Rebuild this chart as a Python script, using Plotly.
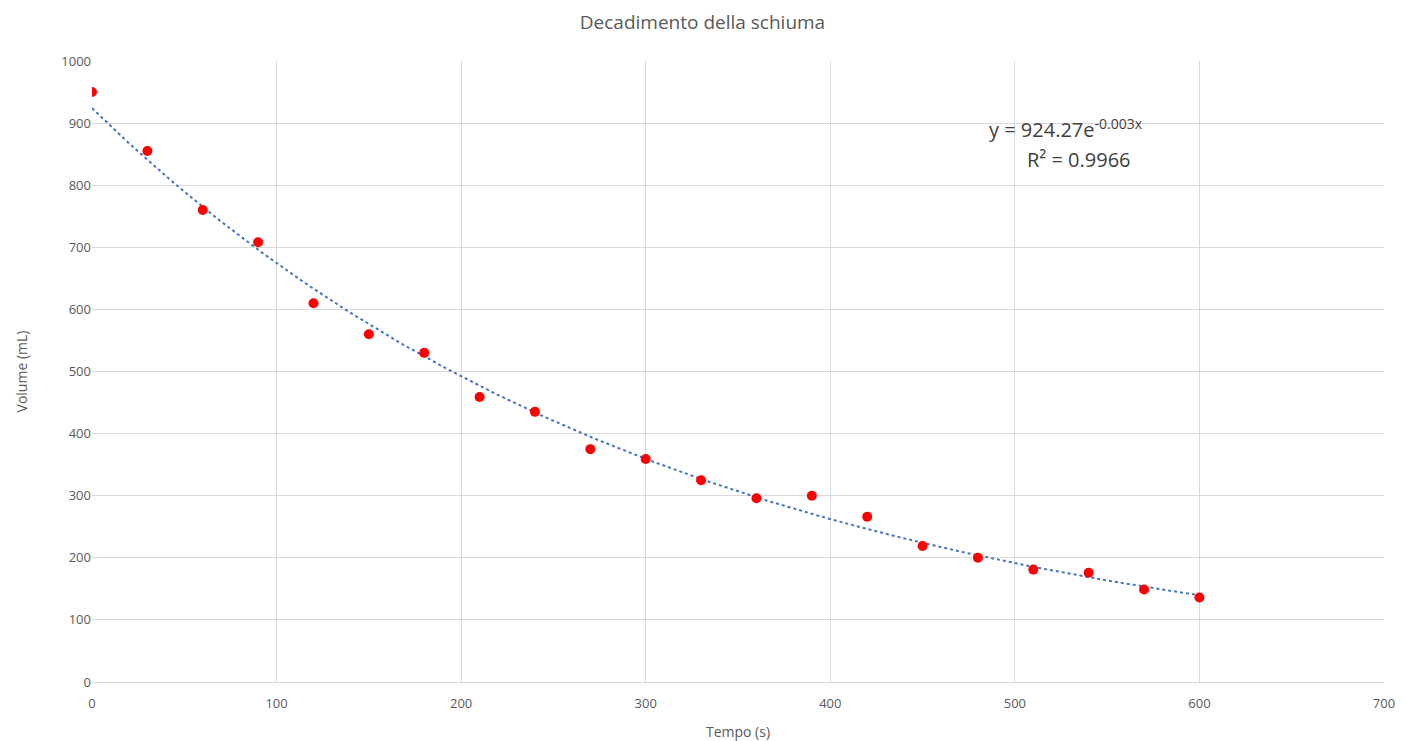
import numpy as np
import plotly.graph_objects as go

tempo = [0, 30, 60, 90, 120, 150, 180, 210, 240, 270, 300, 330, 360, 390, 420, 450, 480, 510, 540, 570, 600]
volume = [950, 855, 760, 708, 610, 560, 530, 459, 435, 375, 359, 325, 296, 300, 266, 219, 200, 181, 176, 149, 136]

# Exponential trendline (least squares on log values, as Excel does)
t = np.array(tempo, dtype=float)
v = np.array(volume, dtype=float)
b, lna = np.polyfit(t, np.log(v), 1)
a = np.exp(lna)
xt = np.linspace(0, 600, 200)
yt = a * np.exp(b * xt)

font_family = "Open Sans, Liberation Sans, sans-serif"

fig = go.Figure()
fig.add_trace(go.Scatter(
    x=xt, y=yt, mode="lines",
    line=dict(color="#4472C4", width=2, dash="dot"),
    hoverinfo="skip", showlegend=False,
))
fig.add_trace(go.Scatter(
    x=tempo, y=volume, mode="markers",
    marker=dict(color="#FF0000", size=10),
    showlegend=False,
))

fig.add_annotation(
    x=0.815, y=0.892, xref="paper", yref="paper", xanchor="right", yanchor="middle",
    text="y = 924.27e<sup>-0.003x</sup>",
    showarrow=False,
    font=dict(family=font_family, size=20, color="#404040"),
)
fig.add_annotation(
    x=0.764, y=0.8406, xref="paper", yref="paper", xanchor="center", yanchor="middle",
    text="R² = 0.9966",
    showarrow=False,
    font=dict(family=font_family, size=20, color="#404040"),
)

fig.update_layout(
    width=1405, height=741,
    paper_bgcolor="white", plot_bgcolor="white",
    margin=dict(l=92, r=21, t=61, b=59),
    title=dict(text="Decadimento della schiuma", x=0.5, xanchor="center", y=0.970, yanchor="middle",
               font=dict(family=font_family, size=19, color="#595959")),
    font=dict(family=font_family, color="#595959"),
    xaxis=dict(
        range=[0, 700], dtick=100, showgrid=True, gridcolor="#D9D9D9", gridwidth=1,
        zeroline=False, showline=True, linecolor="#D9D9D9", automargin=False,
        ticks="outside", ticklen=9, tickcolor="rgba(0,0,0,0)",
        tickfont=dict(size=13, color="#595959"),
        title=dict(text="Tempo (s)", font=dict(size=14, color="#595959"), standoff=20),
    ),
    yaxis=dict(
        range=[0, 1000], dtick=100, showgrid=True, gridcolor="#D9D9D9", gridwidth=1,
        zeroline=False, showline=False, automargin=False,
        tickfont=dict(size=13, color="#595959"),
        title=dict(text="Volume (mL)", font=dict(size=14, color="#595959"), standoff=30),
    ),
)

fig.write_html("out.html", config={"displayModeBar": False},
               post_script="document.body.style.margin='0';document.body.style.overflow='hidden';")
